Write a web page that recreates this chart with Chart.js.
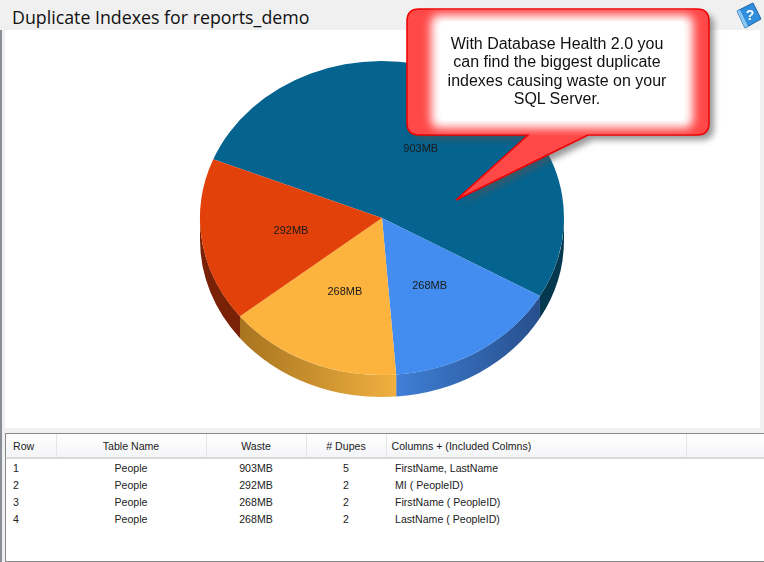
<!DOCTYPE html>
<html>
<head>
<meta charset="utf-8">
<title>Duplicate Indexes for reports_demo</title>
<script src="https://cdn.jsdelivr.net/npm/chart.js@4"></script>
<style>
    html, body { margin: 0; padding: 0; }
    body { width: 764px; height: 562px; overflow: hidden; position: relative; background: #f0f0f0; font-family: "Liberation Sans", Arial, sans-serif; }
    #title { position: absolute; left: 12px; top: 5px; font: 17.8px "Open Sans", "Noto Sans", sans-serif; color: #111; line-height: 24px; }
    #edge { position: absolute; left: 0; top: 30px; width: 2px; height: 532px; background: #8a8f96; }
    #panel { position: absolute; left: 5px; top: 30px; width: 755px; height: 398px; background: #fff; }
    #wasteChart { position: absolute; left: 0; top: 30px; }
    #callout { position: absolute; left: 0; top: 0; }
    #calloutText { position: absolute; left: 427px; top: 35px; width: 260px; text-align: center; font-size: 16px; line-height: 18.4px; color: #111; }
    #tableBox { position: absolute; left: 5px; top: 433px; width: 765px; height: 127px; background: #fff; border: 1px solid #8a8a8a; }
    #dupes { border-collapse: collapse; table-layout: fixed; width: 765px; font-size: 10.6px; color: #222; }
    #dupes th { height: 23px; padding: 0 0 0 0; font-weight: normal; background: linear-gradient(#fff, #f3f4f6); border-right: 1px solid #e3e5e8; border-bottom: 2px solid #d8dade; }
    #dupes td { height: 17px; padding: 0; text-align: center; }
    #dupes td:first-child, #dupes th:first-child { text-align: left; padding-left: 7px; }
    #dupes th.cols { text-align: left; padding-left: 5px; }
    #dupes td.cols { text-align: left; padding-left: 9px; }
</style>
</head>
<body>
<div id="title">Duplicate Indexes for reports_demo</div>
<div id="edge"></div>
<div id="panel"></div>
<canvas id="wasteChart" width="764" height="398" style="width:764px;height:398px"></canvas>

<svg id="callout" width="764" height="210" xmlns="http://www.w3.org/2000/svg">
    <defs>
        <filter id="soft" x="-20%" y="-20%" width="140%" height="140%"><feGaussianBlur stdDeviation="3"></feGaussianBlur></filter>
        <filter id="glow" x="-20%" y="-20%" width="140%" height="140%"><feGaussianBlur stdDeviation="5"></feGaussianBlur></filter>
        <clipPath id="bubble"><rect x="407" y="9" width="302" height="126" rx="12"></rect></clipPath>
    </defs>
    <path d="M419 9H697Q709 9 709 21V123Q709 135 697 135H588L456 200L528 135H419Q407 135 407 123V21Q407 9 419 9Z" transform="translate(5 5)" fill="#555" opacity="0.6" filter="url(#soft)"></path>
    <path d="M419 9H697Q709 9 709 21V123Q709 135 697 135H588L456 200L528 135H419Q407 135 407 123V21Q407 9 419 9Z" fill="#ff4848" stroke="#f00000" stroke-width="1.5"></path>
    <g clip-path="url(#bubble)">
        <rect x="431" y="15" width="262" height="113" rx="8" fill="#fff" filter="url(#glow)"></rect>
        <rect x="441" y="21" width="243" height="100" rx="4" fill="#fff"></rect>
    </g>
</svg>
<div id="calloutText">With Database Health 2.0 you<br>can find the biggest duplicate<br>indexes causing waste on your<br>SQL Server.</div>

<svg style="position:absolute;left:735px;top:2px" width="28" height="27" xmlns="http://www.w3.org/2000/svg">
    <path d="M2 9L18 1L26 17L10 26Z" fill="#2f8fdc" stroke="#1c62a8"></path>
    <path d="M2 9L10 26L13 24L5 8Z" fill="#8cc8f2"></path>
    <text x="15" y="18" font-size="14" font-weight="bold" fill="#fff" text-anchor="middle" font-family="Liberation Sans">?</text>
</svg>

<div id="tableBox">
    <table id="dupes">
        <colgroup><col style="width:50px"><col style="width:150px"><col style="width:100px"><col style="width:80px"><col style="width:300px"><col></colgroup>
        <thead><tr id="headRow"></tr></thead>
        <tbody id="rows"></tbody>
    </table>
</div>

<script>
// table rows, in the order of the report
const tableHeaders = ['Row', 'Table Name', 'Waste', '# Dupes', 'Columns + (Included Colmns)', ''];
const rowNumbers = [1, 2, 3, 4];
const tableNames = ['People', 'People', 'People', 'People'];
const wasteMb = [903, 292, 268, 268];
const dupeCounts = [5, 2, 2, 2];
const columnNames = ['FirstName, LastName', 'MI ( PeopleID)', 'FirstName ( PeopleID)', 'LastName ( PeopleID)'];

// pie slices run clockwise from the big one
const sliceValues = [903, 268, 268, 292];
const sliceColors = ['#05638f', '#438df0', '#fdb43f', '#e2420a'];
const sideColors = [['#04384f', '#04384f'], ['#3f7fd6', '#274f8c'], ['#a8741f', '#f0b040'], ['#7a2208', '#7a2208']];

const headRow = document.getElementById('headRow');
tableHeaders.forEach(function (text, i) {
    const th = document.createElement('th');
    th.textContent = text;
    if (i === 4) th.className = 'cols';
    headRow.appendChild(th);
});
const rows = document.getElementById('rows');
rowNumbers.forEach(function (num, i) {
    const tr = document.createElement('tr');
    [num, tableNames[i], wasteMb[i] + 'MB', dupeCounts[i], columnNames[i]].forEach(function (text, j) {
        const td = document.createElement('td');
        td.textContent = text;
        if (j === 4) td.className = 'cols';
        tr.appendChild(td);
    });
    rows.appendChild(tr);
});

const TILT = 0.863;
const DEPTH = 22;

// squashes the pie into an ellipse and adds the rim below it
const tiltedPie = {
    id: 'tiltedPie',
    beforeDatasetsDraw: function (chart) {
        const ctx = chart.ctx;
        const arcs = chart.getDatasetMeta(0).data;
        arcs.forEach(function (arc, i) {
            const p = arc.getProps(['x', 'y', 'startAngle', 'endAngle', 'outerRadius']);
            [-2 * Math.PI, 0, 2 * Math.PI].forEach(function (shift) {
                const a0 = Math.max(p.startAngle + shift, 0);
                const a1 = Math.min(p.endAngle + shift, Math.PI);
                if (a1 <= a0) return;
                const rx = p.outerRadius;
                const ry = rx * TILT;
                const grad = ctx.createLinearGradient(p.x + rx * Math.cos(a1), 0, p.x + rx * Math.cos(a0), 0);
                grad.addColorStop(0, sideColors[i][0]);
                grad.addColorStop(1, sideColors[i][1]);
                ctx.beginPath();
                ctx.ellipse(p.x, p.y, rx, ry, 0, a0, a1);
                ctx.ellipse(p.x, p.y + DEPTH, rx, ry, 0, a1, a0, true);
                ctx.closePath();
                ctx.fillStyle = grad;
                ctx.fill();
            });
        });
        const cy = arcs[0].y;
        ctx.save();
        ctx.translate(0, cy);
        ctx.scale(1, TILT);
        ctx.translate(0, -cy);
    },
    afterDatasetsDraw: function (chart) {
        const ctx = chart.ctx;
        ctx.restore();
        const arcs = chart.getDatasetMeta(0).data;
        ctx.font = '11px "Liberation Sans", Arial, sans-serif';
        ctx.fillStyle = '#1a1a1a';
        ctx.textAlign = 'center';
        ctx.textBaseline = 'middle';
        arcs.forEach(function (arc, i) {
            const c = arc.getCenterPoint();
            ctx.fillText(sliceValues[i] + 'MB', c.x - 1, arc.y + (c.y - arc.y) * TILT + 1.5);
        });
    }
};

new Chart(document.getElementById('wasteChart').getContext('2d'), {
    type: 'pie',
    data: {
        labels: sliceValues.map(function (v) { return v + 'MB'; }),
        datasets: [{
            data: sliceValues,
            backgroundColor: sliceColors,
            borderWidth: 0
        }]
    },
    options: {
        responsive: false,
        animation: false,
        rotation: 292.0,
        layout: { padding: { top: 6, bottom: 28 } },
        plugins: {
            legend: { display: false },
            tooltip: { enabled: false }
        }
    },
    plugins: [tiltedPie]
});
</script>
</body>
</html>
